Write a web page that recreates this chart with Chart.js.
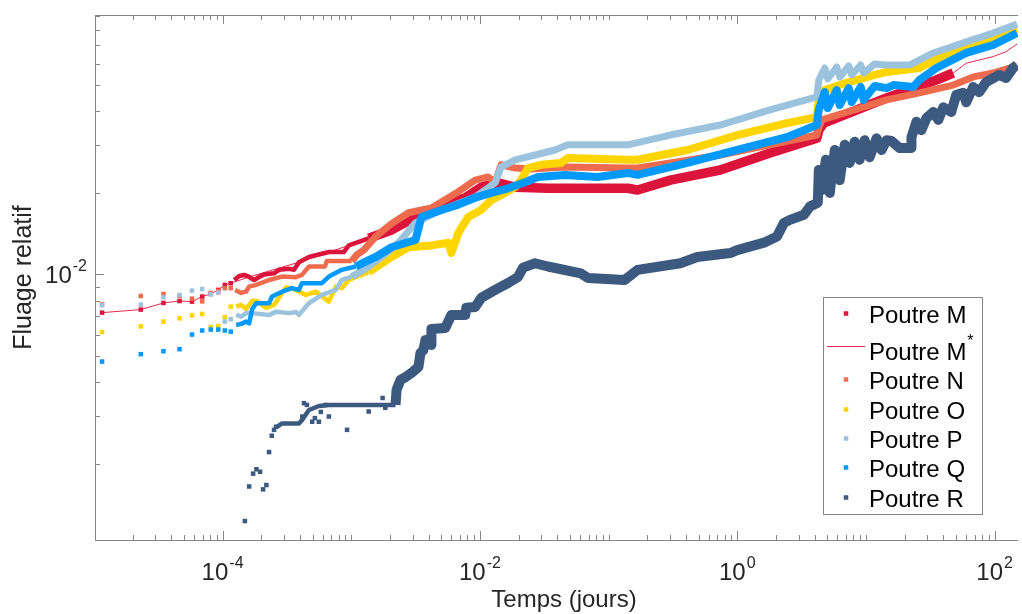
<!DOCTYPE html>
<html>
<head>
<meta charset="utf-8">
<script src="https://cdn.jsdelivr.net/npm/chart.js@4.4.0/dist/chart.umd.min.js"></script>
<style>
  html, body { margin: 0; padding: 0; background: #ffffff; }
  canvas { display: block; }
</style>
</head>
<body>
<canvas id="fluage" width="1022" height="614"></canvas>
<script>
// ---- data (temps en jours, fluage relatif) ----
// first samples, one per second
const dotTimes = [1.157e-5, 2.315e-5, 3.472e-5, 4.630e-5, 5.787e-5, 6.944e-5, 8.102e-5, 9.259e-5, 1.042e-4, 1.157e-4];

const mDotsY = [0.00723, 0.00742, 0.00785, 0.00798, 0.00794, 0.00829, 0.00847, 0.00877, 0.00915, 0.00928];
const nDotsY = [0.00775, 0.00833, 0.00847, 0.00833, 0.00814, 0.00796, 0.00855, 0.00870, 0.00890, 0.00890];
const oDotsY = [0.00613, 0.00643, 0.00670, 0.00689, 0.00707, 0.00715, 0.00640, 0.00645, 0.00695, 0.00761];
const pDotsY = [0.00770, 0.00774, 0.00824, 0.00840, 0.00872, 0.00883, 0.00845, 0.00857, 0.00670, 0.00684];
const qDotsY = [0.00477, 0.00508, 0.00521, 0.00530, 0.00600, 0.00621, 0.00626, 0.00626, 0.00621, 0.00615];

const mBandX = [1.232e-4, 1.346e-4, 1.472e-4, 1.609e-4, 1.759e-4, 1.923e-4, 2.102e-4, 2.513e-4, 2.747e-4, 3.283e-4, 3.589e-4, 3.924e-4, 4.69e-4, 6.70e-4, 8.75e-4, 9.57e-4, 1.367e-3, 2.058e-3, 3.157e-3, 4.199e-3, 5.683e-3, 7.70e-3, 1.023e-2, 1.385e-2, 1.876e-2, 3.379e-2, 0.1406, 0.168, 0.302, 0.737, 1.797, 4.153, 4.304, 4.706, 14.46, 35.25, 47.7];
const mBandY = [0.00954, 0.00987, 0.00996, 0.00979, 0.00954, 0.00979, 0.0100, 0.0101, 0.0104, 0.0105, 0.0104, 0.0111, 0.0116, 0.0121, 0.0121, 0.0128, 0.0136, 0.0146, 0.0163, 0.0173, 0.0183, 0.0192, 0.0210, 0.0218, 0.0210, 0.0208, 0.0208, 0.0205, 0.0223, 0.0243, 0.0281, 0.0318, 0.0341, 0.0362, 0.0448, 0.0522, 0.0554];

const mStarX = [1.157e-5, 2.315e-5, 3.472e-5, 4.630e-5, 5.787e-5, 6.944e-5, 8.102e-5, 9.259e-5, 1.042e-4, 1.157e-4, 1.609e-4, 3.924e-4, 9.57e-4, 4.199e-3, 1.385e-2, 3.379e-2, 0.168, 0.737, 4.153, 4.706, 14.46, 47.7, 60.17, 97.4, 122.7, 149.4];
const mStarY = [0.00723, 0.00742, 0.00785, 0.00798, 0.00794, 0.00829, 0.00847, 0.00877, 0.00915, 0.00928, 0.00979, 0.0111, 0.0128, 0.0173, 0.0218, 0.0208, 0.0205, 0.0243, 0.0318, 0.0362, 0.0448, 0.0554, 0.0602, 0.0637, 0.0664, 0.0709];

const nBandX = [1.254e-4, 1.395e-4, 1.526e-4, 1.609e-4, 1.823e-4, 2.298e-4, 2.898e-4, 3.719e-4, 4.139e-4, 4.69e-4, 6.24e-4, 6.46e-4, 1.009e-3, 1.103e-3, 1.250e-3, 1.548e-3, 2.058e-3, 2.787e-3, 4.199e-3, 6.79e-3, 9.19e-3, 1.159e-2, 1.314e-2, 1.462e-2, 1.876e-2, 2.495e-2, 4.575e-2, 0.1406, 0.168, 0.302, 0.737, 1.797, 4.153, 4.304, 4.541, 14.46, 26.04, 47.7, 68.2, 97.4, 139.0, 149.4];
const nBandY = [0.00877, 0.00855, 0.00865, 0.00902, 0.00915, 0.00954, 0.00982, 0.00977, 0.00996, 0.0107, 0.0107, 0.0112, 0.0112, 0.0118, 0.0123, 0.0138, 0.0154, 0.0169, 0.0176, 0.0202, 0.0223, 0.0229, 0.0219, 0.0254, 0.0247, 0.0245, 0.0249, 0.0247, 0.0247, 0.0258, 0.0276, 0.0301, 0.0327, 0.0347, 0.0372, 0.0441, 0.0468, 0.0500, 0.0536, 0.0554, 0.0583, 0.0588];

const oBandX = [1.276e-4, 1.395e-4, 1.526e-4, 1.698e-4, 1.856e-4, 2.180e-4, 2.513e-4, 3.112e-4, 3.719e-4, 4.445e-4, 5.312e-4, 6.70e-4, 7.59e-4, 8.44e-4, 9.57e-4, 1.367e-3, 2.058e-3, 2.787e-3, 4.199e-3, 5.683e-3, 5.996e-3, 6.79e-3, 8.12e-3, 1.023e-2, 1.223e-2, 1.570e-2, 1.876e-2, 2.09e-2, 2.365e-2, 2.982e-2, 4.259e-2, 4.825e-2, 0.1406, 0.168, 0.410, 1.0, 2.43, 4.153, 4.304, 4.79, 5.93, 7.35, 9.10, 11.68, 14.46, 26.04, 37.19, 60.17, 97.4, 149.4];
const oBandY = [0.00761, 0.00772, 0.00746, 0.00799, 0.00798, 0.00753, 0.00772, 0.00897, 0.00877, 0.00840, 0.00864, 0.00794, 0.00902, 0.00890, 0.00954, 0.0102, 0.0116, 0.0126, 0.0128, 0.0131, 0.0120, 0.0142, 0.0163, 0.0173, 0.0188, 0.0200, 0.0210, 0.0223, 0.0247, 0.0254, 0.0258, 0.0269, 0.0265, 0.0265, 0.0288, 0.0327, 0.0362, 0.0381, 0.0441, 0.0479, 0.0496, 0.0513, 0.0527, 0.0545, 0.0559, 0.0578, 0.0630, 0.0688, 0.0733, 0.0805];

const pBandX = [1.276e-4, 1.395e-4, 1.526e-4, 1.698e-4, 2.298e-4, 2.604e-4, 3.283e-4, 3.719e-4, 3.924e-4, 4.445e-4, 4.69e-4, 5.911e-4, 7.59e-4, 8.44e-4, 1.009e-3, 1.295e-3, 1.722e-3, 2.332e-3, 3.157e-3, 4.510e-3, 6.44e-3, 9.19e-3, 1.314e-2, 1.462e-2, 1.876e-2, 2.680e-2, 3.827e-2, 4.825e-2, 0.1406, 0.302, 0.737, 1.797, 4.153, 4.304, 4.79, 5.05, 5.93, 6.256, 7.35, 7.75, 9.10, 9.60, 11.68, 14.46, 21.79, 33.42, 60.17, 97.4, 149.4];
const pBandY = [0.00709, 0.00699, 0.00720, 0.00720, 0.00709, 0.00729, 0.00720, 0.00727, 0.00709, 0.00761, 0.00783, 0.00840, 0.00877, 0.00954, 0.00982, 0.0105, 0.0116, 0.0131, 0.0155, 0.0169, 0.0181, 0.0193, 0.0218, 0.0249, 0.0265, 0.0276, 0.0288, 0.0301, 0.0301, 0.0327, 0.0356, 0.0405, 0.0452, 0.0522, 0.0578, 0.0527, 0.0583, 0.0536, 0.0588, 0.0545, 0.0593, 0.0554, 0.0598, 0.0593, 0.0593, 0.0657, 0.0722, 0.0778, 0.0840];

const qBandX = [1.276e-4, 1.395e-4, 1.526e-4, 1.609e-4, 1.698e-4, 1.823e-4, 2.298e-4, 2.425e-4, 2.898e-4, 3.463e-4, 3.924e-4, 4.139e-4, 5.911e-4, 6.70e-4, 8.44e-4, 1.084e-3, 1.367e-3, 1.548e-3, 2.058e-3, 3.157e-3, 3.513e-3, 5.02e-3, 6.79e-3, 9.19e-3, 1.223e-2, 1.656e-2, 2.24e-2, 2.827e-2, 4.575e-2, 8.24e-2, 0.1406, 0.168, 0.410, 1.0, 2.43, 4.153, 4.304, 4.79, 5.05, 5.93, 6.256, 7.35, 7.75, 9.10, 9.60, 11.68, 14.46, 16.38, 23.40, 26.04, 35.25, 60.17, 97.4, 149.4];
const qBandY = [0.00651, 0.00657, 0.00670, 0.00660, 0.00744, 0.00783, 0.00783, 0.00829, 0.00864, 0.00890, 0.00877, 0.00929, 0.00929, 0.00982, 0.0104, 0.0107, 0.0113, 0.0116, 0.0126, 0.0134, 0.0163, 0.0173, 0.0181, 0.0192, 0.0200, 0.0208, 0.0219, 0.0229, 0.0233, 0.0229, 0.0237, 0.0233, 0.0258, 0.0288, 0.0321, 0.0356, 0.0405, 0.0471, 0.0411, 0.0479, 0.0422, 0.0487, 0.0433, 0.0492, 0.0441, 0.0496, 0.0487, 0.0500, 0.0492, 0.0522, 0.0578, 0.0657, 0.0703, 0.0778];

const rDotsX = [1.491e-4, 1.609e-4, 1.728e-4, 1.833e-4, 1.958e-4, 2.065e-4, 2.190e-4, 2.298e-4, 2.412e-4, 2.513e-4, 2.604e-4, 4.16e-4, 4.29e-4, 4.524e-4, 4.97e-4, 5.218e-4, 5.605e-4, 5.805e-4, 6.315e-4, 6.70e-4, 9.28e-4, 1.366e-3, 1.753e-3, 1.839e-3];
const rDotsY = [0.00123, 0.00165, 0.00184, 0.00191, 0.00187, 0.00161, 0.00167, 0.00221, 0.00254, 0.00267, 0.00274, 0.00299, 0.00335, 0.00330, 0.00286, 0.00295, 0.00286, 0.00311, 0.00330, 0.00299, 0.00267, 0.00312, 0.00350, 0.00322];

const rBandX = [2.651e-4, 2.898e-4, 3.924e-4, 4.139e-4, 4.69e-4, 5.605e-4, 6.70e-4, 1.143e-3, 2.210e-3, 2.250e-3, 2.416e-3, 2.641e-3, 2.939e-3, 3.331e-3, 3.451e-3, 3.640e-3, 3.772e-3, 4.199e-3, 4.199e-3, 5.387e-3, 5.996e-3, 7.70e-3, 7.834e-3, 9.19e-3, 1.023e-2, 1.314e-2, 1.656e-2, 1.979e-2, 2.164e-2, 2.680e-2, 3.379e-2, 6.083e-2, 6.889e-2, 0.1332, 0.168, 0.3614, 0.4893, 0.881, 1.0, 1.615, 2.036, 2.307, 2.567, 3.295, 3.666, 4.228, 4.304, 4.541, 4.877, 5.236, 5.724, 6.256, 6.841, 7.478, 8.176, 8.939, 9.770, 10.68, 12.10, 13.23, 14.46, 15.81, 18.23, 22.58, 22.58, 24.68, 26.98, 29.49, 33.42, 36.54, 39.94, 46.06, 50.34, 57.04, 60.17, 68.17, 75.86, 85.9, 108.3, 122.7, 139.0, 149.4];
const rBandY = [0.00274, 0.00282, 0.00282, 0.00290, 0.00316, 0.00327, 0.00330, 0.00330, 0.00330, 0.00375, 0.00408, 0.00418, 0.00433, 0.00456, 0.00513, 0.00526, 0.00573, 0.00549, 0.00629, 0.00635, 0.00709, 0.00709, 0.00753, 0.00759, 0.00819, 0.00877, 0.00930, 0.00979, 0.0106, 0.0110, 0.0107, 0.0101, 0.00971, 0.00954, 0.0104, 0.0110, 0.0116, 0.0120, 0.0123, 0.0131, 0.0138, 0.0155, 0.0159, 0.0166, 0.0178, 0.0184, 0.0243, 0.0205, 0.0265, 0.0200, 0.0288, 0.0223, 0.0301, 0.0258, 0.0309, 0.0265, 0.0313, 0.0271, 0.0318, 0.0288, 0.0313, 0.0311, 0.0293, 0.0293, 0.0321, 0.0366, 0.0341, 0.0377, 0.0398, 0.0372, 0.0414, 0.0398, 0.0460, 0.0468, 0.0432, 0.0492, 0.0471, 0.0513, 0.0545, 0.0531, 0.0578, 0.0593];

// axes and legend texts
const xMajorTicks = [1e-4, 1e-2, 1, 100];
const xTickExps = ['-4', '-2', '0', '2'];
const yMajorTicks = [1e-2];
const yTickExps = ['-2'];
const xTitle = 'Temps (jours)';
const yTitle = 'Fluage relatif';
const legendLabels = ['Poutre M', 'Poutre M', 'Poutre N', 'Poutre O', 'Poutre P', 'Poutre Q', 'Poutre R'];

// ---- styling ----
const colors = {
    M: '#DC143C',
    N: '#EE6B4D',
    O: '#FFD500',
    P: '#9CC3DE',
    Q: '#0099FF',
    R: '#3C5A80',
};
const FONT = '"Liberation Sans", Arial, Helvetica, sans-serif';
const TEXT = '#262626';
const AXIS = '#858585';

function pts(xs, ys) {
    return xs.map((x, i) => ({ x: x, y: ys[i] }));
}

function bandSet(xs, ys, color, thick, thinUntil) {
    return {
        data: pts(xs, ys),
        showLine: true,
        borderColor: color,
        backgroundColor: color,
        borderWidth: thick,
        borderJoinStyle: 'round',
        borderCapStyle: 'butt',
        pointRadius: 0,
        segment: {
            borderWidth: ctx => ctx.p0.parsed.x < thinUntil ? 4.5 : thick,
        },
    };
}

function dotSet(xs, ys, color) {
    return {
        data: pts(xs, ys),
        showLine: false,
        pointStyle: 'rect',
        pointRadius: 3.2,
        pointBorderWidth: 0,
        backgroundColor: color,
        borderColor: color,
    };
}

// bottom to top
const datasets = [
    {
        data: pts(mStarX, mStarY),
        showLine: true,
        borderColor: '#E2294F',
        borderWidth: 1,
        pointRadius: 0,
    },
    bandSet(mBandX, mBandY, colors.M, 9.5, 1e-3),
    dotSet(dotTimes, mDotsY, colors.M),
    bandSet(nBandX, nBandY, colors.N, 7, 1e-3),
    dotSet(dotTimes, nDotsY, colors.N),
    bandSet(oBandX, oBandY, colors.O, 8, 1e-3),
    dotSet(dotTimes, oDotsY, colors.O),
    bandSet(pBandX, pBandY, colors.P, 7, 1e-3),
    dotSet(dotTimes, pDotsY, colors.P),
    bandSet(qBandX, qBandY, colors.Q, 8, 1e-3),
    dotSet(dotTimes, qDotsY, colors.Q),
    bandSet(rBandX, rBandY, colors.R, 10, 2.2e-3),
    dotSet(rDotsX, rDotsY, colors.R),
];
datasets.forEach((d, i) => { d.order = datasets.length - i; });

function drawPow(ctx, exp, left, baseline) {
    ctx.font = '24px ' + FONT;
    const w1 = ctx.measureText('10').width;
    ctx.fillText('10', left, baseline);
    ctx.font = '16px ' + FONT;
    ctx.fillText(exp, left + w1 + 1, baseline - 12);
}

function powWidth(ctx, exp) {
    ctx.font = '24px ' + FONT;
    const w1 = ctx.measureText('10').width;
    ctx.font = '16px ' + FONT;
    return w1 + 1 + ctx.measureText(exp).width;
}

const axesPlugin = {
    id: 'axesBox',
    afterDraw(chart) {
        const { ctx, chartArea: a, scales: { x, y } } = chart;
        ctx.save();

        // frame
        ctx.strokeStyle = AXIS;
        ctx.lineWidth = 1;
        ctx.beginPath();
        ctx.moveTo(a.left + 0.5, a.top);
        ctx.lineTo(a.left + 0.5, a.bottom + 1);
        ctx.moveTo(a.left, a.bottom + 0.5);
        ctx.lineTo(a.right, a.bottom + 0.5);
        ctx.moveTo(a.left, a.top + 0.5);
        ctx.lineTo(a.right, a.top + 0.5);
        ctx.stroke();

        // x ticks, inward on bottom and top
        ctx.beginPath();
        for (let e = -5; e <= 2; e++) {
            for (let m = 1; m <= 9; m++) {
                const v = m * Math.pow(10, e);
                if (v < x.min || v > x.max) continue;
                const px = Math.round(x.getPixelForValue(v)) + 0.5;
                const major = xMajorTicks.some(t => Math.abs(t - v) / t < 1e-6);
                const len = major ? 9 : 5;
                ctx.moveTo(px, a.bottom);
                ctx.lineTo(px, a.bottom - len);
                ctx.moveTo(px, a.top);
                ctx.lineTo(px, a.top + len);
            }
        }
        // y ticks, inward on left
        for (let e = -3; e <= -2; e++) {
            for (let m = 1; m <= 9; m++) {
                const v = m * Math.pow(10, e);
                if (v < y.min || v > y.max) continue;
                const py = Math.round(y.getPixelForValue(v)) + 0.5;
                const major = yMajorTicks.some(t => Math.abs(t - v) / t < 1e-6);
                const len = major ? 9 : 5;
                ctx.moveTo(a.left, py);
                ctx.lineTo(a.left + len, py);
            }
        }
        ctx.stroke();

        // tick labels
        ctx.fillStyle = TEXT;
        ctx.textAlign = 'left';
        ctx.textBaseline = 'alphabetic';
        xMajorTicks.forEach((v, i) => {
            const cx = x.getPixelForValue(v);
            const w = powWidth(ctx, xTickExps[i]);
            drawPow(ctx, xTickExps[i], cx - w / 2, 580);
        });
        yMajorTicks.forEach((v, i) => {
            const cy = y.getPixelForValue(v);
            const w = powWidth(ctx, yTickExps[i]);
            drawPow(ctx, yTickExps[i], 87 - w, cy + 9);
        });

        // axis titles
        ctx.font = '24px ' + FONT;
        ctx.textAlign = 'center';
        ctx.fillText(xTitle, 564, 607);
        ctx.save();
        ctx.translate(31, (a.top + a.bottom) / 2);
        ctx.rotate(-Math.PI / 2);
        ctx.font = '25px ' + FONT;
        ctx.fillText(yTitle, 0, 0);
        ctx.restore();

        // legend
        const box = { l: 823.5, t: 297.5, r: 982.5, b: 514.5 };
        ctx.fillStyle = '#ffffff';
        ctx.fillRect(box.l, box.t, box.r - box.l, box.b - box.t);
        ctx.strokeStyle = AXIS;
        ctx.lineWidth = 1;
        ctx.strokeRect(box.l, box.t, box.r - box.l, box.b - box.t);

        const baselines = [323, 360, 389, 419, 448, 477, 507];
        const legendColors = [colors.M, colors.M, colors.N, colors.O, colors.P, colors.Q, colors.R];
        legendLabels.forEach((label, i) => {
            const bl = baselines[i];
            if (i === 1) {
                ctx.strokeStyle = '#E2294F';
                ctx.lineWidth = 1;
                ctx.beginPath();
                ctx.moveTo(827, 346.5);
                ctx.lineTo(865, 346.5);
                ctx.stroke();
            } else {
                ctx.fillStyle = legendColors[i];
                ctx.fillRect(846 - 2.25, bl - 9.5 - 2.25, 4.5, 4.5);
            }
            ctx.fillStyle = '#000000';
            ctx.font = '24px ' + FONT;
            ctx.textAlign = 'left';
            ctx.fillText(label, 869, bl);
            if (i === 1) {
                const w = ctx.measureText(label).width;
                ctx.font = '16px ' + FONT;
                ctx.fillText('*', 869 + w + 1, bl - 14);
            }
        });

        ctx.restore();
    }
};

new Chart(document.getElementById('fluage'), {
    type: 'scatter',
    data: { datasets: datasets },
    options: {
        responsive: false,
        animation: false,
        devicePixelRatio: 1,
        layout: { padding: { left: 95, top: 15, right: 0, bottom: 74 } },
        scales: {
            x: { type: 'logarithmic', min: 1.02e-5, max: 152, bounds: 'data', display: false },
            y: { type: 'logarithmic', min: 1.047e-3, max: 0.0907, bounds: 'data', display: false },
        },
        plugins: {
            legend: { display: false },
            tooltip: { enabled: false },
        },
    },
    plugins: [axesPlugin],
});
</script>
</body>
</html>
